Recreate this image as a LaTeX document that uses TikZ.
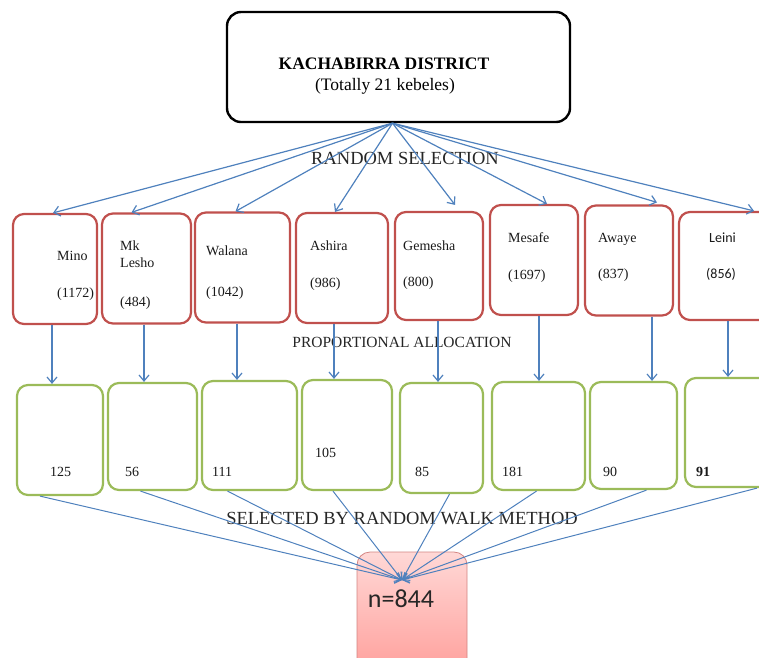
\documentclass[tikz,border=0pt]{standalone}
\usepackage{fontspec}
\setmainfont{Liberation Serif}
\newfontfamily\carlito{Carlito}
\usetikzlibrary{arrows.meta,positioning}
\definecolor{kebelered}{RGB}{192,80,77}
\definecolor{samplegreen}{RGB}{155,187,89}
\definecolor{linkblue}{RGB}{79,129,189}
\definecolor{pinklight}{RGB}{255,216,214}
\definecolor{pinkdark}{RGB}{255,158,154}

\begin{document}
\begin{tikzpicture}[x=1pt,y=-1pt,
district/.style={draw=black,line width=2.4pt,rounded corners=14pt,minimum width=343pt,minimum height=110pt,inner sep=0pt},
kebele/.style={draw=kebelered,line width=2.2pt,rounded corners=11pt,minimum width=88pt,minimum height=110pt,inner sep=0pt},
sample/.style={draw=samplegreen,line width=2.2pt,rounded corners=11pt,minimum width=88pt,minimum height=108pt,inner sep=0pt},
total/.style={draw=kebelered!70,line width=0.8pt,rounded corners=13pt,top color=pinklight,bottom color=pinkdark,minimum width=110pt,minimum height=125pt,inner sep=0pt},
ktext/.style={inner sep=0pt,anchor=base west,text=black!90,font=\fontsize{14}{16}\selectfont},
stage/.style={inner sep=0pt,anchor=base,text=black!85,font=\fontsize{18.5}{20}\selectfont},
link/.style={linkblue,line width=1.2pt,-{Straight Barb[length=6pt,width=10pt]}},
thinlink/.style={linkblue,line width=1pt,-{Straight Barb[length=6pt,width=10pt]}}
]
\useasboundingbox (0,0) rectangle (759,657);

% district
\node[district] (district) at (398.5,67) {};
\node[inner sep=0pt,anchor=base,font=\bfseries\fontsize{17.5}{20}\selectfont] (dname) at (384,69) {KACHABIRRA DISTRICT};
\node[inner sep=0pt,anchor=base,font=\fontsize{17.5}{20}\selectfont] (dcount) at (385,90) {(Totally 21 kebeles)};

% kebeles
\node[kebele,minimum width=84pt] (mino) at (55,269) {};
\node[kebele,minimum width=89pt] (mklesho) at (146.5,268.5) {};
\node[kebele,minimum width=95pt] (walana) at (242.5,267.5) {};
\node[kebele,minimum width=92pt] (ashira) at (342,268) {};
\node[kebele,minimum height=108pt] (gemesha) at (439,266) {};
\node[kebele] (mesafe) at (534,260) {};
\node[kebele] (awaye) at (629,260.5) {};
\node[kebele,minimum width=92pt,minimum height=108pt] (leini) at (725,266) {};

\node[ktext] (mino-n) at (57,260) {Mino};
\node[ktext] (mino-p) at (57,297) {(1172)};
\node[ktext] (mk-n) at (120,250) {Mk};
\node[ktext] (lesho-n) at (120,267) {Lesho};
\node[ktext] (mk-p) at (120,306) {(484)};
\node[ktext] (walana-n) at (206,255) {Walana};
\node[ktext] (walana-p) at (206,296) {(1042)};
\node[ktext] (ashira-n) at (310,250) {Ashira};
\node[ktext] (ashira-p) at (310,287) {(986)};
\node[ktext] (gemesha-n) at (403,250) {Gemesha};
\node[ktext] (gemesha-p) at (403,286) {(800)};
\node[ktext] (mesafe-n) at (508,242) {Mesafe};
\node[ktext] (mesafe-p) at (508,279) {(1697)};
\node[ktext] (awaye-n) at (598,242) {Awaye};
\node[ktext] (awaye-p) at (598,278) {(837)};
\node[ktext,font=\carlito\fontsize{14}{16}\selectfont] (leini-n) at (709,242) {Leini};
\node[ktext,font=\carlito\fontsize{14}{16}\selectfont] (leini-p) at (706,278) {(856)};

% samples
\node[sample,minimum width=86pt,minimum height=110pt] (s1) at (60,440) {};
\node[sample,minimum width=89pt,minimum height=107pt] (s2) at (152.5,436.5) {};
\node[sample,minimum width=95pt,minimum height=109pt] (s3) at (249.5,435.5) {};
\node[sample,minimum width=90pt,minimum height=110pt] (s4) at (347,435) {};
\node[sample,minimum width=83pt,minimum height=110pt] (s5) at (441.5,438) {};
\node[sample,minimum width=93pt] (s6) at (538.5,436) {};
\node[sample,minimum width=87pt,minimum height=107pt] (s7) at (633.5,435.5) {};
\node[sample,minimum width=90pt,minimum height=109pt] (s8) at (730,432.5) {};

\node[ktext] (s1-n) at (50,476) {125};
\node[ktext] (s2-n) at (125,476) {56};
\node[ktext] (s3-n) at (212,476) {111};
\node[ktext] (s4-n) at (315,457) {105};
\node[ktext] (s5-n) at (415,476) {85};
\node[ktext] (s6-n) at (502,476) {181};
\node[ktext] (s7-n) at (603,476) {90};
\node[ktext,font=\bfseries\fontsize{14}{16}\selectfont] (s8-n) at (696,476) {91};

% total
\node[total] (total) at (412,614.5) {};
\node[inner sep=0pt,anchor=base,text=black!85,font=\carlito\fontsize{26}{28}\selectfont] (total-n) at (401,607) {n=844};
\coordinate (sink) at (402,580);

% stage labels
\node[stage] (random) at (405,164) {RANDOM SELECTION};
\node[stage,font=\fontsize{15.5}{18}\selectfont] (prop) at (402,347) {PROPORTIONAL ALLOCATION};
\node[stage] (walk) at (402,524) {SELECTED BY RANDOM WALK METHOD};

% random selection
\coordinate (hub) at ([xshift=-6pt]district.south);
\draw[link] (hub) -- ([xshift=-2pt]mino.north);
\draw[link] (hub) -- ([xshift=-15pt]mklesho.north);
\draw[link] (hub) -- ([xshift=-7pt]walana.north);
\draw[link] (hub) -- ([xshift=-7pt]ashira.north);
\draw[link] (hub) -- ([xshift=16pt,yshift=6pt]gemesha.north);
\draw[link] (hub) -- ([xshift=13pt]mesafe.north);
\draw[link] (hub) -- ([xshift=28pt,yshift=2pt]awaye.north);
\draw[link] (hub) -- ([xshift=29pt]leini.north);

% proportional allocation
\draw[link] ([xshift=-3pt]mino.south) -- ([xshift=-3pt]mino.south |- s1.north);
\draw[link] ([xshift=-2.5pt]mklesho.south) -- ([xshift=-2.5pt]mklesho.south |- s2.north);
\draw[link] ([xshift=-5.5pt]walana.south) -- ([xshift=-5.5pt]walana.south |- s3.north);
\draw[link] ([xshift=-8pt]ashira.south) -- ([xshift=-8pt]ashira.south |- s4.north);
\draw[link] ([xshift=-1pt]gemesha.south) -- ([xshift=-1pt]gemesha.south |- s5.north);
\draw[link] ([xshift=5pt]mesafe.south) -- ([xshift=5pt]mesafe.south |- s6.north);
\draw[link] ([xshift=23pt]awaye.south) -- ([xshift=23pt]awaye.south |- s7.north);
\draw[link] ([xshift=3pt]leini.south) -- ([xshift=3pt]leini.south |- s8.north);

% random walk
\draw[thinlink] ([xshift=-20pt]s1.south) -- (sink);
\draw[thinlink] ([xshift=-12pt]s2.south) -- (sink);
\draw[thinlink] ([xshift=-22pt]s3.south) -- (sink);
\draw[thinlink] ([xshift=-14pt]s4.south) -- (sink);
\draw[thinlink] ([xshift=8pt]s5.south) -- (sink);
\draw[thinlink] ([xshift=-2pt]s6.south) -- (sink);
\draw[thinlink] ([xshift=13pt]s7.south) -- (sink);
\draw[thinlink] ([xshift=27pt]s8.south) -- (sink);
\end{tikzpicture}
\end{document}
